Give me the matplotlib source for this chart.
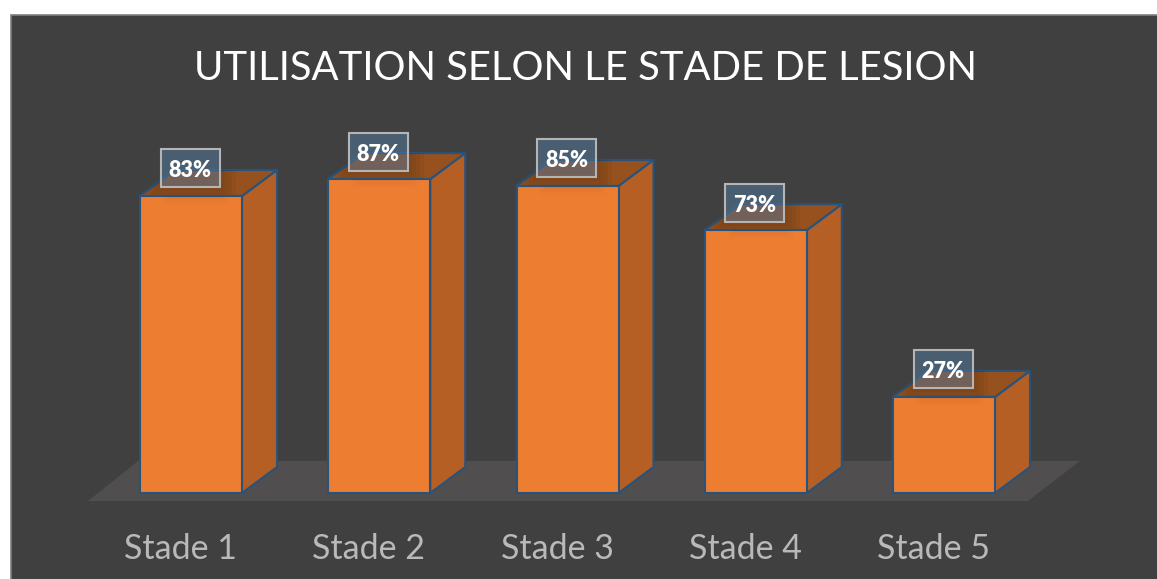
import matplotlib
matplotlib.use('Agg')
import matplotlib.pyplot as plt
from matplotlib.patches import Polygon, Rectangle
from matplotlib.transforms import ScaledTranslation

TITLE = 'UTILISATION SELON LE STADE DE LESION'
stades = ['Stade 1', 'Stade 2', 'Stade 3', 'Stade 4', 'Stade 5']
valeurs = [82.51, 87.2, 85.3, 73.0, 26.7]

W, H = 1157, 579
PX_X = 188.25   # px per category
PX_Y = 3.6      # px per percent
BAR_W = 102 / PX_X
DX = 35 / PX_X
DY = 26 / PX_Y
EDGE = '#27537d'

plt.rcParams['font.family'] = ['Lato', 'DejaVu Sans']
fig = plt.figure(figsize=(W / 100, H / 100), dpi=100, facecolor='white')

# dark panel, runs off the right and bottom of the picture
fig.add_artist(Rectangle((10.5 / W, -0.05), 1.1, (H - 14.5) / H + 0.05, transform=fig.transFigure,
                         facecolor='#404040', edgecolor='#7f7f7f', linewidth=1.2, zorder=-1))

# axes bottom sits on the front edge of the floor
ax = fig.add_axes([0, (H - 501) / H, 1, (501 - 14) / H])
ax.patch.set_alpha(0)
ax.set_xlim(-191 / PX_X, (W - 191) / PX_X)
ax.set_ylim(-8 / PX_Y, 479 / PX_Y)
for s in ax.spines.values():
    s.set_visible(False)
ax.set_yticks([])
ax.set_xticks(range(len(stades)))
ax.set_xticklabels(stades, fontsize=24.5, color='#b9b9b9')
ax.tick_params(axis='x', length=0, pad=23)
# labels are centred on the floor, not on the front of the bars
shift = ScaledTranslation(-10.5 / 100, 0, fig.dpi_scale_trans)
for lab in ax.get_xticklabels():
    lab.set_transform(lab.get_transform() + shift)

# floor
fx = lambda px: (px - 191) / PX_X
ax.add_patch(Polygon([(fx(88), -8 / PX_Y), (fx(1028), -8 / PX_Y), (fx(1080), 32 / PX_Y), (fx(138), 32 / PX_Y)],
                     facecolor='#504e4e', edgecolor='none', zorder=1))

bw = 59 / PX_X
bh = 38 / PX_Y
lab_dx = -1 / PX_X

for i, v in enumerate(valeurs):
    l, r = i - BAR_W / 2, i + BAR_W / 2
    yc = v + 27.5 / PX_Y
    # right side and top of the box
    ax.add_patch(Polygon([(r, 0), (r + DX, DY), (r + DX, v + DY), (r, v)],
                         facecolor='#b55f25', edgecolor=EDGE, linewidth=1.5, joinstyle='round', zorder=2))
    top = Polygon([(l, v), (r, v), (r + DX, v + DY), (l + DX, v + DY)],
                  facecolor='#96511f', edgecolor=EDGE, linewidth=1.5, joinstyle='round', zorder=2)
    ax.add_patch(top)
    # soft shadow of the label on the top face
    for grow in (16, 12, 8, 4):
        sh = Rectangle((i + lab_dx - bw / 2 - grow / PX_X, yc - bh / 2 - grow / PX_Y),
                       bw + 2 * grow / PX_X, bh + 2 * grow / PX_Y,
                       facecolor='black', alpha=0.035, edgecolor='none', zorder=2.5)
        ax.add_patch(sh)
        sh.set_clip_path(top)

bars = ax.bar(range(len(valeurs)), valeurs, width=BAR_W, color='#ed7d31', edgecolor=EDGE, linewidth=1.5, zorder=3)

for i, v in enumerate(valeurs):
    yc = v + 27.5 / PX_Y
    xc = i + lab_dx
    # shadow spilling on the front face
    for grow in (8, 5, 2):
        sh = Rectangle((xc - bw / 2 + 10 / PX_X - grow / PX_X, v - (grow + 1) / PX_Y),
                       bw - 8 / PX_X + 2 * grow / PX_X, (grow + 1) / PX_Y,
                       facecolor='black', alpha=0.012, edgecolor='none', zorder=4)
        ax.add_patch(sh)
    ax.add_patch(Rectangle((xc - bw / 2, yc - bh / 2), bw, bh, facecolor='#5b8dbd', alpha=0.4,
                           edgecolor='none', zorder=5))
    ax.add_patch(Rectangle((xc - bw / 2, yc - bh / 2), bw, bh, facecolor='none',
                           edgecolor='#b5b5b5', linewidth=1.5, zorder=6))
    ax.text(xc, yc - 2.5 / PX_Y, f'{v:.0f}%', ha='center', va='center', color='white', fontsize=15.5,
            fontweight='heavy', zorder=7)

fig.text(585 / W, (H - 69) / H, TITLE, ha='center', va='center', color='white', fontsize=28.8, fontweight='normal')

fig.savefig('out.png', dpi=100)
